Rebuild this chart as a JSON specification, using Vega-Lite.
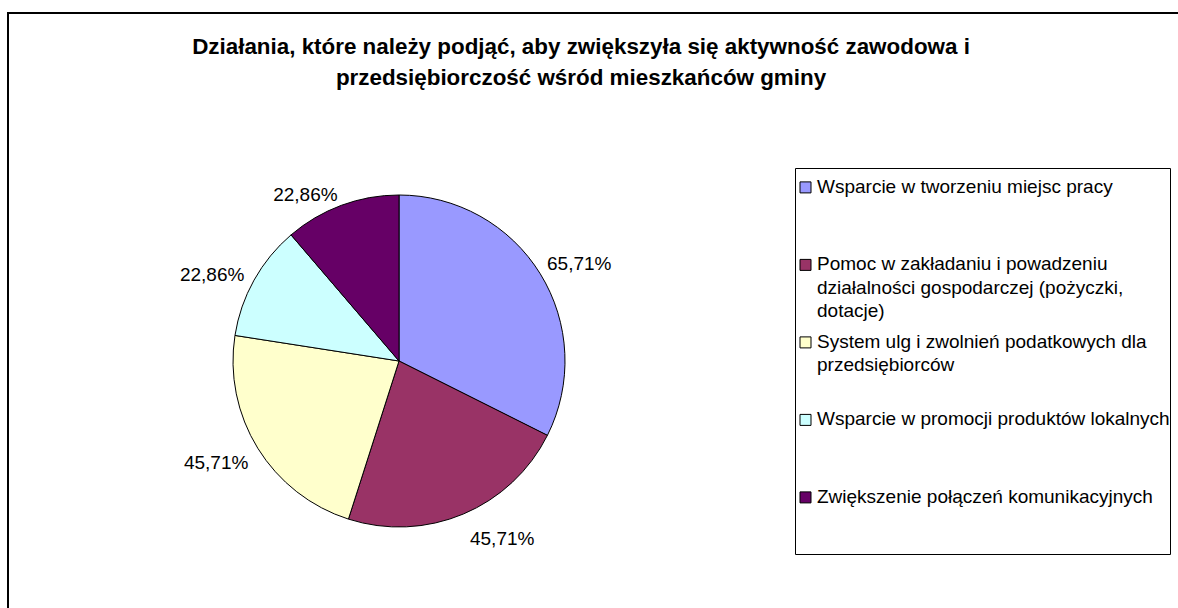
{
  "$schema": "https://vega.github.io/schema/vega-lite/v6.json",
  "width": 1300,
  "height": 700,
  "autosize": {"type": "none"},
  "padding": {"left": 8, "top": 13, "right": -130, "bottom": -105},
  "background": "white",
  "view": {"stroke": "black", "strokeWidth": 2, "fill": "white"},
  "title": {
    "text": ["Działania, które należy podjąć, aby zwiększyła się aktywność zawodowa i", "przedsiębiorczość wśród mieszkańców gminy"],
    "font": "Liberation Sans",
    "fontSize": 22.4,
    "fontWeight": "bold",
    "color": "black",
    "anchor": "start",
    "frame": "group",
    "offset": -76,
    "dx": 573,
    "align": "center",
    "lineHeight": 31
  },
  "data": {
    "values": [
      {"kategoria": "Wsparcie w tworzeniu miejsc pracy", "udzial": 0.6571, "kolejnosc": 1},
      {"kategoria": "Pomoc w zakładaniu i powadzeniu\ndziałalności gospodarczej (pożyczki,\ndotacje)", "udzial": 0.4571, "kolejnosc": 2},
      {"kategoria": "System ulg i zwolnień podatkowych dla\nprzedsiębiorców", "udzial": 0.4571, "kolejnosc": 3},
      {"kategoria": "Wsparcie w promocji produktów lokalnych", "udzial": 0.2286, "kolejnosc": 4},
      {"kategoria": "Zwiększenie połączeń komunikacyjnych", "udzial": 0.2286, "kolejnosc": 5}
    ]
  },
  "encoding": {
    "theta": {"field": "udzial", "type": "quantitative", "stack": true},
    "order": {"field": "kolejnosc", "type": "quantitative"}
  },
  "layer": [
    {
      "mark": {"type": "arc", "x": 391, "y": 348, "outerRadius": 166, "stroke": "black", "strokeWidth": 1},
      "encoding": {
        "color": {
          "field": "kategoria",
          "type": "nominal",
          "scale": {
            "domain": [
              "Wsparcie w tworzeniu miejsc pracy",
              "Pomoc w zakładaniu i powadzeniu\ndziałalności gospodarczej (pożyczki,\ndotacje)",
              "System ulg i zwolnień podatkowych dla\nprzedsiębiorców",
              "Wsparcie w promocji produktów lokalnych",
              "Zwiększenie połączeń komunikacyjnych"
            ],
            "range": ["#9999FF", "#993366", "#FFFFCC", "#CCFFFF", "#660066"]
          },
          "legend": {
            "orient": "none",
            "legendX": 787,
            "legendY": 155,
            "title": null,
            "strokeColor": "black",
            "fillColor": "white",
            "padding": 0,
            "labelFont": "Liberation Sans",
            "labelFontSize": 19,
            "labelColor": "black",
            "labelLimit": 0,
            "labelBaseline": "top",
            "labelOffset": 2,
            "rowPadding": 1.5,
            "symbolType": "M-1,0.8H1V2.8H-1Z",
            "symbolSize": 121,
            "symbolStrokeColor": "black",
            "symbolStrokeWidth": 1,
            "symbolOpacity": 1,
            "symbolOffset": 1,
            "labelExpr": "slice(split(datum.label + '\\n\\n', '\\n'), 0, 3)"
          }
        }
      }
    },
    {
      "mark": {"type": "text", "x": 391, "y": 348, "radius": 174, "align": "left", "baseline": "alphabetic", "font": "Liberation Sans", "fontSize": 19, "fill": "black"},
      "encoding": {
        "text": {"condition": {"test": "datum.kolejnosc == 1", "field": "udzial", "type": "quantitative", "format": ".2%"}, "value": ""}
      }
    },
    {
      "mark": {"type": "text", "x": 391, "y": 348, "radius": 183, "align": "left", "baseline": "top", "font": "Liberation Sans", "fontSize": 19, "fill": "black"},
      "encoding": {
        "text": {"condition": {"test": "datum.kolejnosc == 2", "field": "udzial", "type": "quantitative", "format": ".2%"}, "value": ""}
      }
    },
    {
      "mark": {"type": "text", "x": 391, "y": 348, "radius": 177, "align": "right", "baseline": "top", "font": "Liberation Sans", "fontSize": 19, "fill": "black"},
      "encoding": {
        "text": {"condition": {"test": "datum.kolejnosc == 3", "field": "udzial", "type": "quantitative", "format": ".2%"}, "value": ""}
      }
    },
    {
      "mark": {"type": "text", "x": 391, "y": 348, "radius": 177, "align": "right", "baseline": "middle", "font": "Liberation Sans", "fontSize": 19, "fill": "black"},
      "encoding": {
        "text": {"condition": {"test": "datum.kolejnosc >= 4", "field": "udzial", "type": "quantitative", "format": ".2%"}, "value": ""}
      }
    }
  ],
  "config": {
    "locale": {"number": {"decimal": ",", "thousands": " ", "grouping": [3], "currency": ["", " zł"]}},
    "style": {"guide-label": {"lineHeight": 23.5}}
  }
}
